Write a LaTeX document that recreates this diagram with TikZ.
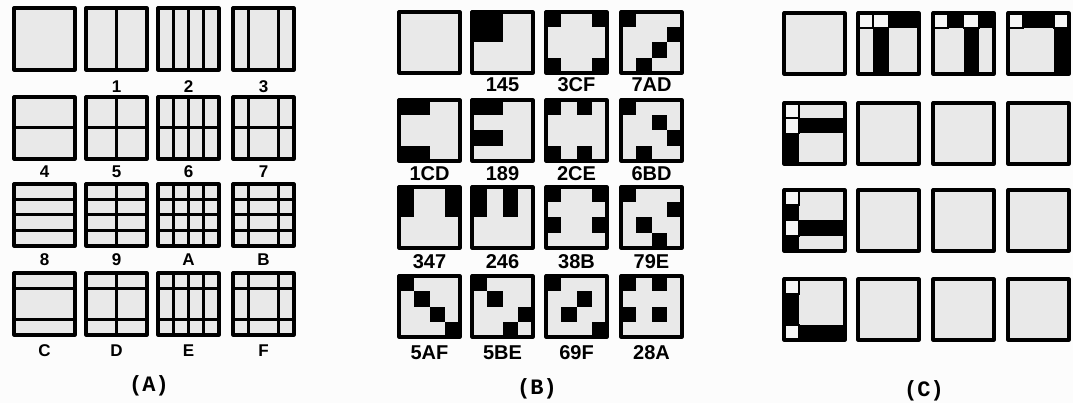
\documentclass[tikz,border=0pt]{standalone}
\usepackage{fontspec}
\newfontfamily\labfont{Liberation Sans}
\newfontfamily\capfont{Liberation Mono}
\definecolor{sqfill}{RGB}{233,233,233}
\definecolor{bgcol}{RGB}{252,252,252}
% panel A square: x, y, vertical code, horizontal code
\newcommand\asq[4]{%
 \begin{scope}[shift={(#1,#2)}]
  \fill[sqfill] (0,0) rectangle (61,62);
  \ifcase#3\or
   \draw[gl] (30.5,0) -- (30.5,62);\or
   \draw[gl] (15.25,0) -- (15.25,62) (30.5,0) -- (30.5,62) (45.75,0) -- (45.75,62);\or
   \draw[gl] (15.25,0) -- (15.25,62) (45.75,0) -- (45.75,62);\fi
  \ifcase#4\or
   \draw[gl] (0,31) -- (61,31);\or
   \draw[gl] (0,15.5) -- (61,15.5) (0,31) -- (61,31) (0,46.5) -- (61,46.5);\or
   \draw[gl] (0,15.5) -- (61,15.5) (0,46.5) -- (61,46.5);\fi
  \draw[sqb] (0,0) rectangle (61,62);
 \end{scope}}
% panel B/C square: x, y, black cells, white boxed cells
\newcommand\bsq[4]{%
 \begin{scope}[shift={(#1,#2)}]
  \fill[sqfill] (0,0) rectangle (61,61);
  \foreach \k in {#3} {%
   \pgfmathtruncatemacro\kr{div(\k,4)}\pgfmathtruncatemacro\kc{mod(\k,4)}%
   \fill[black] (\kc*15.25,\kr*15.25) rectangle ++(15.25,15.25);}
  \foreach \k in {#4} {%
   \pgfmathtruncatemacro\kr{div(\k,4)}\pgfmathtruncatemacro\kc{mod(\k,4)}%
   \draw[wb] (\kc*15.25,\kr*15.25) rectangle ++(15.25,15.25);}
  \draw[sqb] (0,0) rectangle (61,61);
 \end{scope}}
\begin{document}
\begin{tikzpicture}[x=1pt,y=-1pt,
  sqb/.style={draw=black,line width=3.2pt,line join=round},
  gl/.style={draw=black,line width=3pt},
  wb/.style={draw=black,line width=1.6pt,fill=white!60!sqfill},
  laba/.style={font=\labfont\bfseries\fontsize{17}{17}\selectfont,inner sep=0pt},
  labb/.style={font=\labfont\bfseries\fontsize{20}{20}\selectfont,inner sep=0pt},
  captext/.style={font=\capfont\bfseries\fontsize{22}{22}\selectfont,inner sep=0pt}]
\fill[bgcol] (0,0) rectangle (1073,403);
\useasboundingbox (0,0) rectangle (1073,403);
% ---------------- Panel A ----------------
\asq{14}{8}{0}{0}
\asq{86}{8}{1}{0}
\asq{158}{8}{2}{0}
\asq{233}{8}{3}{0}
\asq{14}{97}{0}{1}
\asq{86}{97}{1}{1}
\asq{158}{97}{2}{1}
\asq{233}{97}{3}{1}
\asq{14}{184}{0}{2}
\asq{86}{184}{1}{2}
\asq{158}{184}{2}{2}
\asq{233}{184}{3}{2}
\asq{14}{273}{0}{3}
\asq{86}{273}{1}{3}
\asq{158}{273}{2}{3}
\asq{233}{273}{3}{3}
\node[laba] (a1) at (116.5,87) {1};
\node[laba] (a2) at (188.5,87) {2};
\node[laba] (a3) at (263.5,87) {3};
\node[laba] (a4) at (44.5,172) {4};
\node[laba] (a5) at (116.5,172) {5};
\node[laba] (a6) at (188.5,172) {6};
\node[laba] (a7) at (263.5,172) {7};
\node[laba] (a8) at (44.5,260) {8};
\node[laba] (a9) at (116.5,260) {9};
\node[laba] (aA) at (188.5,260) {A};
\node[laba] (aB) at (263.5,260) {B};
\node[laba] (aC) at (44.5,351) {C};
\node[laba] (aD) at (116.5,351) {D};
\node[laba] (aE) at (188.5,351) {E};
\node[laba] (aF) at (263.5,351) {F};
\node[captext] (capA) at (149,386) {(A)};
% ---------------- Panel B ----------------
\bsq{399}{12}{}{}
\bsq{472}{12}{0,1,4,5}{}
\bsq{546}{12}{0,3,12,15}{}
\bsq{621}{12}{0,7,10,13}{}
\bsq{399}{100}{0,1,12,13}{}
\bsq{472}{100}{0,1,8,9}{}
\bsq{546}{100}{0,2,12,14}{}
\bsq{621}{100}{0,6,11,13}{}
\bsq{399}{187}{0,3,4,7}{}
\bsq{472}{187}{0,2,4,6}{}
\bsq{546}{187}{0,3,8,11}{}
\bsq{621}{187}{0,7,9,14}{}
\bsq{399}{276}{0,5,10,15}{}
\bsq{472}{276}{0,5,11,14}{}
\bsq{546}{276}{0,6,9,15}{}
\bsq{621}{276}{0,2,8,10}{}
\node[labb] (b145) at (502.5,85) {145};
\node[labb] (b3CF) at (576.5,85) {3CF};
\node[labb] (b7AD) at (651.5,85) {7AD};
\node[labb] (b1CD) at (429.5,174) {1CD};
\node[labb] (b189) at (502.5,174) {189};
\node[labb] (b2CE) at (576.5,174) {2CE};
\node[labb] (b6BD) at (651.5,174) {6BD};
\node[labb] (b347) at (429.5,262) {347};
\node[labb] (b246) at (502.5,262) {246};
\node[labb] (b38B) at (576.5,262) {38B};
\node[labb] (b79E) at (651.5,262) {79E};
\node[labb] (b5AF) at (429.5,353) {5AF};
\node[labb] (b5BE) at (502.5,353) {5BE};
\node[labb] (b69F) at (576.5,353) {69F};
\node[labb] (b28A) at (651.5,353) {28A};
\node[captext] (capB) at (537,389) {(B)};
% ---------------- Panel C ----------------
\bsq{784}{13}{}{}
\bsq{858}{13}{2,3,5,9,13}{0,1}
\bsq{933}{13}{1,3,6,10,14}{0,2}
\bsq{1008}{13}{1,2,7,11,15}{0,3}
\bsq{784}{103}{5,6,7,8,12}{0,4}
\bsq{858}{103}{}{}
\bsq{933}{103}{}{}
\bsq{1008}{103}{}{}
\bsq{784}{190}{4,9,10,11,12}{0,8}
\bsq{858}{190}{}{}
\bsq{933}{190}{}{}
\bsq{1008}{190}{}{}
\bsq{784}{279}{4,8,13,14,15}{0,12}
\bsq{858}{279}{}{}
\bsq{933}{279}{}{}
\bsq{1008}{279}{}{}
\node[captext] (capC) at (924,391) {(C)};
\end{tikzpicture}
\end{document}
